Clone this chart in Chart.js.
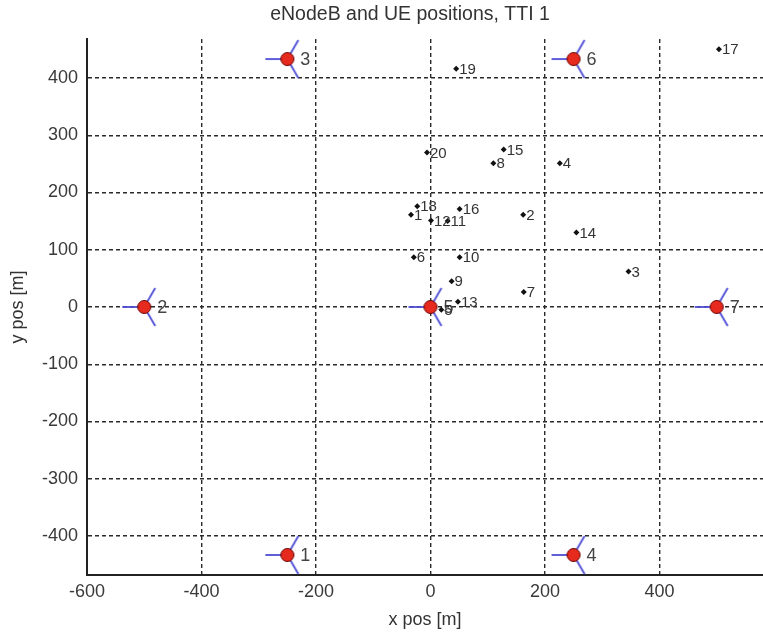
<!DOCTYPE html>
<html>
<head>
<meta charset="utf-8">
<script src="https://cdn.jsdelivr.net/npm/chart.js@4/dist/chart.umd.min.js"></script>
<style>
  html, body { margin: 0; padding: 0; background: #fff; }
  #wrap { width: 763px; height: 637px; }
</style>
</head>
<body>
<div id="wrap"><canvas id="posChart"></canvas></div>
<script>
// eNodeB sites (hexagonal layout)
const enbIds = [1, 2, 3, 4, 5, 6, 7];
const enbX = [-250, -500, -250, 250, 0, 250, 500];
const enbY = [-433, 0, 433, -433, 0, 433, 0];

// UE positions
const ueIds = [1, 2, 3, 4, 5, 6, 7, 8, 9, 10, 11, 12, 13, 14, 15, 16, 17, 18, 19, 20];
const ueX = [-34, 162, 346, 226, 19, -29, 163, 110, 37, 51, 30, 1, 48, 255, 128, 51, 504, -23, 45, -6];
const ueY = [161, 161, 62, 251, -5, 87, 26, 251, 45, 87, 150, 151, 9, 130, 275, 171, 450, 176, 416, 270];

const xTicks = [-600, -400, -200, 0, 200, 400];
const yTicks = [-400, -300, -200, -100, 0, 100, 200, 300, 400];

const titleText = 'eNodeB and UE positions, TTI 1';

const FONT = 'Liberation Sans, Arial, sans-serif';

// marker for an eNodeB: red dot with three sector antennas
function makeEnbMarker() {
    const c = document.createElement('canvas');
    c.width = 60;
    c.height = 60;
    const ctx = c.getContext('2d');
    const cx = 30, cy = 30, len = 22;
    ctx.strokeStyle = '#4d4dd6';
    ctx.lineWidth = 1.8;
    [180, 60, -60].forEach((deg) => {
        const a = deg * Math.PI / 180;
        ctx.beginPath();
        ctx.moveTo(cx, cy);
        ctx.lineTo(cx + len * Math.cos(a), cy - len * Math.sin(a));
        ctx.stroke();
    });
    ctx.beginPath();
    ctx.arc(cx, cy, 6.5, 0, Math.PI * 2);
    ctx.fillStyle = '#e62a1e';
    ctx.fill();
    ctx.lineWidth = 1;
    ctx.strokeStyle = '#6b0000';
    ctx.stroke();
    return c;
}

// writes the id number next to every point, and the title
const pointLabels = {
    id: 'pointLabels',
    afterDatasetsDraw(chart) {
        const ctx = chart.ctx;
        ctx.save();
        ctx.textBaseline = 'middle';
        ctx.textAlign = 'left';
        chart.data.datasets.forEach((ds, di) => {
            const meta = chart.getDatasetMeta(di);
            meta.data.forEach((pt, i) => {
                if (di === 0) {
                    ctx.font = '18px ' + FONT;
                    ctx.fillStyle = '#444';
                    ctx.fillText(String(enbIds[i]), pt.x + 13, pt.y + 1);
                } else {
                    ctx.font = '15px ' + FONT;
                    ctx.fillStyle = '#333';
                    ctx.fillText(String(ueIds[i]), pt.x + 3, pt.y + 1);
                }
            });
        });

        // title, centred a bit left of the plot area like the original
        ctx.font = '19.5px ' + FONT;
        ctx.fillStyle = '#333';
        ctx.textAlign = 'center';
        const area = chart.chartArea;
        ctx.fillText(titleText, (area.left + area.right) / 2 - 15, 15);
        ctx.restore();
    }
};

const canvas = document.getElementById('posChart');

new Chart(canvas, {
    type: 'scatter',
    data: {
        datasets: [{
            label: 'eNodeB',
            data: enbX.map((x, i) => ({ x: x, y: enbY[i] })),
            pointStyle: makeEnbMarker(),
            pointRadius: 8
        }, {
            label: 'UE',
            data: ueX.map((x, i) => ({ x: x, y: ueY[i] })),
            pointStyle: 'rectRot',
            pointRadius: 3,
            backgroundColor: '#111',
            borderColor: '#111',
            borderWidth: 0
        }]
    },
    options: {
        responsive: true,
        maintainAspectRatio: false,
        animation: false,
        layout: { autoPadding: false, padding: { top: 39, left: 0, right: 0, bottom: 0 } },
        plugins: {
            legend: { display: false },
            tooltip: { enabled: false },
            title: { display: false }
        },
        scales: {
            x: {
                type: 'linear',
                min: -600,
                max: 581,
                afterBuildTicks: (s) => { s.ticks = xTicks.map((v) => ({ value: v })); },
                afterFit: (s) => { s.height = 62; s.paddingLeft = 0; s.paddingRight = 0; },
                ticks: { color: '#3a3a3a', padding: 6, font: { family: FONT, size: 18 } },
                grid: { color: '#2a2a2a', lineWidth: 1.4, drawTicks: false },
                border: { display: true, color: '#222', width: 2, dash: [4, 3] },
                title: {
                    display: true,
                    text: 'x pos [m]',
                    color: '#333',
                    font: { family: FONT, size: 18 },
                    padding: { top: 2, bottom: 6 }
                }
            },
            y: {
                type: 'linear',
                min: -468,
                max: 468,
                afterBuildTicks: (s) => { s.ticks = yTicks.map((v) => ({ value: v })); },
                afterFit: (s) => { s.width = 87; s.paddingTop = 0; s.paddingBottom = 0; },
                ticks: { color: '#3a3a3a', padding: 9, font: { family: FONT, size: 18 } },
                grid: { color: '#2a2a2a', lineWidth: 1.4, drawTicks: false },
                border: { display: true, color: '#222', width: 2, dash: [4, 3] },
                title: {
                    display: true,
                    text: 'y pos [m]',
                    color: '#333',
                    font: { family: FONT, size: 18 },
                    padding: { top: 7, bottom: 2 }
                }
            }
        }
    },
    plugins: [pointLabels]
});
</script>
</body>
</html>
